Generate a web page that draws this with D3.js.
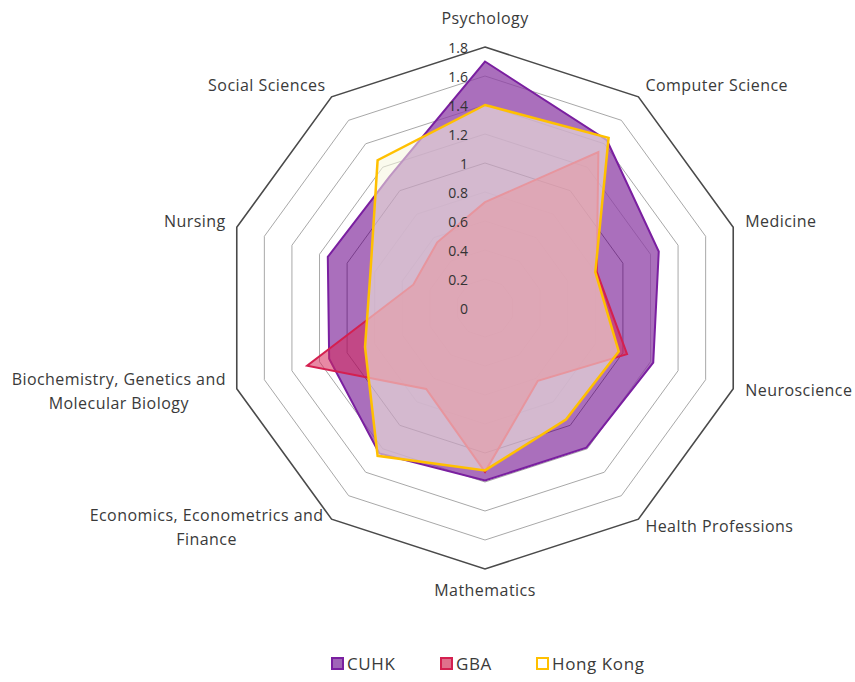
<!DOCTYPE html>
<html><head><meta charset="utf-8">
<script src="https://cdn.jsdelivr.net/npm/d3@7"></script>
<style>html,body{margin:0;padding:0;background:#fff;}svg{display:block;font-family:"Open Sans",Lato,sans-serif;}</style>
</head><body>
<svg id="chart" width="855" height="682"></svg>
<script>
const categories = ["Psychology","Computer Science","Medicine","Neuroscience","Health Professions","Mathematics","Economics, Econometrics and Finance","Biochemistry, Genetics and Molecular Biology","Nursing","Social Sciences"];
const seriesNames = ["CUHK","GBA","Hong Kong"];
const cuhk = [1.70,1.43,1.26,1.22,1.19,1.19,1.24,1.13,1.14,1.12];
const gba  = [0.73,1.33,0.81,1.03,0.62,1.13,0.69,1.29,0.52,0.56];
const hk   = [1.40,1.45,0.80,0.97,0.95,1.12,1.26,0.87,0.83,1.26];
const ticks = [0,0.2,0.4,0.6,0.8,1,1.2,1.4,1.6,1.8];

const svg = d3.select("#chart");
const cx = 485, cy = 308, R = 261;
const r = d3.scaleLinear().domain([0,1.8]).range([0,R]);
const n = categories.length;
const ang = d3.scaleLinear().domain([0,n]).range([0,2*Math.PI]);
const pt = (i,v)=>[cx + Math.sin(ang(i))*r(v), cy - Math.cos(ang(i))*r(v)];

// grid rings
const ringStyle = v => v===1.8 ? ["#4a4a4a",1.6] : v===1 ? ["#3a3a3a",1] : v>=1.2 ? ["#a8a8a8",1] : ["#d0d0d0",0.8];
ticks.filter(t=>t>0).forEach(t=>{
  const pts = d3.range(n).map(i=>pt(i,t));
  const [c,w] = ringStyle(+t.toFixed(1));
  svg.append("path").attr("d", d3.line()(pts)+"Z").attr("fill","none").attr("stroke",c).attr("stroke-width",w);
});

const line = d3.lineRadial().angle((d,i)=>ang(i)).radius(d=>r(d)).curve(d3.curveLinearClosed);
const g = svg.append("g").attr("transform",`translate(${cx},${cy})`);
const styles = [
  {data:cuhk, fill:"#8e3fa6", op:0.75, stroke:"#7a1fa0", sw:2},
  {data:gba,  fill:"#d6285a", op:0.55, stroke:"#d42050", sw:2},
  {data:hk,   fill:"#f6f6de", op:0.55, stroke:"#ffc000", sw:2.5}
];
styles.forEach(s=>{
  g.append("path").attr("d", line(s.data)).attr("fill",s.fill).attr("fill-opacity",s.op)
   .attr("stroke",s.stroke).attr("stroke-width",s.sw).attr("stroke-linejoin","miter");
});

// tick labels
svg.append("g").selectAll("text").data(ticks).join("text")
  .attr("x", cx-17).attr("y", d=>cy - r(d) + 6)
  .attr("text-anchor","end").attr("font-size",14).attr("fill","#333")
  .text(d=>d3.format("~g")(d));

// category labels
const labelPos = [
  {dx:0, dy:-23, anchor:"middle"},
  {dx:7, dy:-6, anchor:"start"},
  {dx:12, dy:0, anchor:"start"},
  {dx:12, dy:7, anchor:"start"},
  {dx:7, dy:13, anchor:"start"},
  {dx:0, dy:27, anchor:"middle"},
  {dx:-125, dy:2, anchor:"middle", lines:["Economics, Econometrics and","Finance"]},
  {dx:-118, dy:-4, anchor:"middle", lines:["Biochemistry, Genetics and","Molecular Biology"]},
  {dx:-11, dy:0, anchor:"end"},
  {dx:-6, dy:-6, anchor:"end"}
];
categories.forEach((c,i)=>{
  const [x,y] = pt(i,1.8);
  const p = labelPos[i];
  const t = svg.append("text").attr("x",x+p.dx).attr("y",y+p.dy).attr("text-anchor",p.anchor)
    .attr("font-size",16).attr("fill","#3a3a3a").attr("letter-spacing",0.45);
  const lines = p.lines || [c];
  lines.forEach((l,k)=>t.append("tspan").attr("x",x+p.dx).attr("dy",k===0?0:24).text(l));
});

// legend
const legend = [
  {name:seriesNames[0], fill:"#a064b8", stroke:"#7a1fa0"},
  {name:seriesNames[1], fill:"#e0708c", stroke:"#d42050"},
  {name:seriesNames[2], fill:"#ffffff", stroke:"#ffc000"}
];
const lx = [331, 440, 536];
legend.forEach((d,i)=>{
  svg.append("rect").attr("x",lx[i]+1).attr("y",658).attr("width",11).attr("height",11)
    .attr("fill",d.fill).attr("stroke",d.stroke).attr("stroke-width",2);
  svg.append("text").attr("x",lx[i]+16).attr("y",670).attr("font-size",17).attr("letter-spacing",0.6)
    .attr("fill","#3a3a3a").text(d.name);
});
</script>
</body></html>
